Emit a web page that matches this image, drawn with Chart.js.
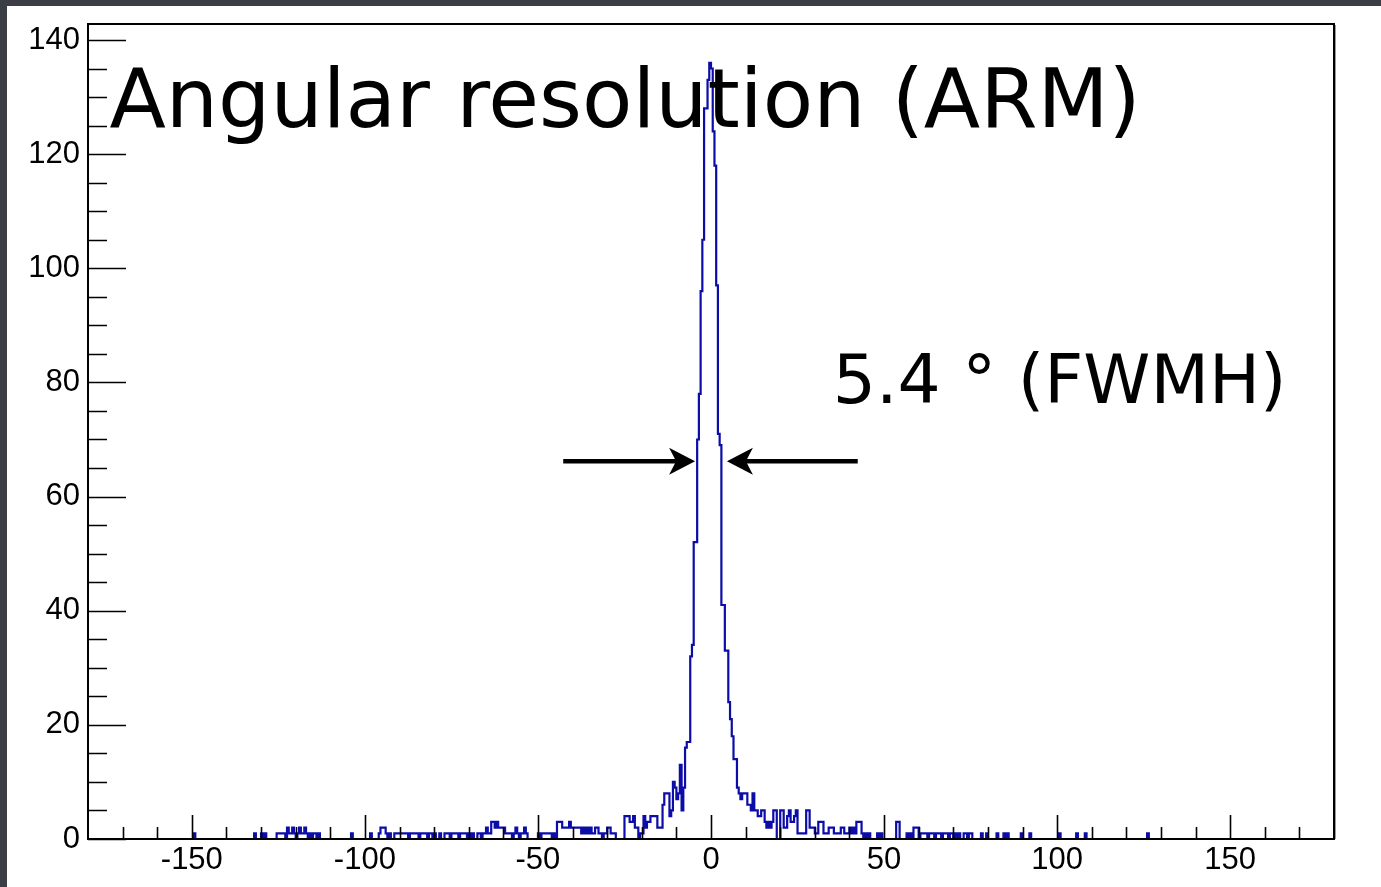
<!DOCTYPE html>
<html><head><meta charset="utf-8">
<script src="https://cdn.jsdelivr.net/npm/chart.js@4.4.1/dist/chart.umd.min.js"></script>
<style>
html,body{margin:0;padding:0;width:1381px;height:887px;overflow:hidden;background:#3c3e46;}
#panel{position:absolute;left:7px;top:6px;width:1374px;height:881px;background:#fff;}
canvas{display:block;}
</style></head><body>
<div id="panel"><canvas id="c" width="1374" height="881"></canvas></div>
<script>
// ---- histogram binning (degrees) ----
const histMin = -180;
const histMax = 180;
const binWidth = 0.5;

// ---- core of the peak: bin low edges and counts ----
const coreEdges  = [-9, -8.5, -8, -7.5, -7, -6.5, -6, -5.5, -5, -4.5, -4, -3.5, -3, -2.5, -2, -1.5, -1, -0.5,
                    0, 0.5, 1, 1.5, 2, 2.5, 3, 3.5, 4, 4.5, 5, 5.5, 6, 6.5, 7];
const coreCounts = [13, 5, 9, 16, 17, 17, 32, 34, 52, 52, 70, 78, 96, 105, 128, 128, 133, 136,
                    135, 124, 118, 97, 71, 69, 41, 41, 33, 33, 24, 21, 18, 14, 14];

// ---- left tail (non-empty bins) ----
const leftTailEdges = [-149.5, -132, -130, -129, -125.5, -125, -124.5, -124, -123.5, -122.5, -122, -121.5, -121, -120.5,
  -119.5, -119, -118.5, -118, -117.5, -117, -116, -115, -114.5, -113.5, -104, -98.5, -96, -95.5, -95, -94.5, -94, -93,
  -91.5, -91, -90.5, -90, -89.5, -89, -88.5, -88, -87, -86.5, -86, -85.5, -85, -84, -83.5, -83, -82.5, -81.5, -81, -80,
  -78.5, -77, -76.5, -76, -75, -74.5, -74, -73.5, -72.5, -72, -71.5, -71, -70, -69, -67.5, -67, -66, -65.5, -65, -64.5, -64,
  -63.5, -63, -62.5, -62, -61.5, -61, -60.5, -60, -59.5, -59, -58.5, -58, -57, -56.5, -56, -55, -54.5, -54, -53.5,
  -50, -49, -48.5, -48, -47.5, -47, -46.5, -45.5, -44.5, -44, -43.5, -43, -42.5, -42, -41.5, -41, -40.5, -40,
  -39.5, -39, -38.5, -38, -37.5, -37, -36.5, -36, -35.5, -35, -34.5, -34, -33.5, -33, -32.5, -32, -31, -30.5, -30, -29.5,
  -29, -28.5, -28, -25, -24.5, -24, -23.5, -23, -22.5, -22, -21.5, -20.5, -20, -19.5, -19, -18.5, -18, -17.5, -17, -16.5, -16,
  -15.5, -15, -14.5, -14, -13.5, -13, -12.5, -12, -11.5, -11, -10.5, -10, -9.5];
const leftTailCounts = [1, 1, 1, 1, 1, 1, 1, 1, 1, 2, 1, 1, 2, 1,
  1, 2, 1, 1, 2, 1, 1, 1, 1, 1, 1, 1, 1, 2, 2, 2, 1, 1,
  1, 1, 1, 1, 1, 1, 1, 1, 1, 1, 1, 1, 1, 1, 1, 1, 1, 1, 1, 1,
  1, 1, 1, 1, 1, 1, 1, 1, 1, 1, 1, 1, 1, 1, 1, 1, 1, 1, 2, 1, 1,
  3, 3, 2, 3, 2, 2, 2, 2, 1, 1, 1, 1, 1, 2, 1, 1, 1, 2, 1,
  1, 1, 1, 1, 1, 1, 1, 1, 3, 3, 3, 2, 2, 2, 2, 3, 2, 2,
  2, 2, 2, 2, 1, 2, 1, 2, 1, 2, 1, 1, 2, 2, 1, 1, 1, 1, 2, 2,
  1, 1, 1, 4, 4, 4, 3, 3, 4, 2, 2, 1, 1, 4, 2, 3, 3, 4, 4, 4, 4,
  2, 2, 2, 6, 8, 8, 8, 4, 5, 10, 9, 7, 8];

// ---- right tail (non-empty bins) ----
const rightTailEdges = [7.5, 8, 8.5, 9, 9.5, 10, 10.5, 11, 11.5, 12, 12.5, 13, 13.5, 14, 14.5, 15, 15.5, 16, 16.5, 17, 17.5,
  18, 18.5, 20, 20.5, 21, 21.5, 22, 22.5, 23, 23.5, 24, 24.5, 25, 25.5, 26, 26.5, 27, 27.5, 28, 28.5, 29, 29.5, 30, 30.5,
  31, 31.5, 32, 32.5, 33, 33.5, 34, 34.5, 35, 35.5, 36, 36.5, 37, 37.5, 38, 38.5, 39, 39.5, 40, 40.5, 41, 41.5, 42, 42.5, 43,
  43.5, 44.5, 45.5, 48, 49, 53.5, 54, 56.5, 57.5, 58.5, 59, 59.5, 60.5, 61, 61.5, 62, 63, 63.5, 64, 65, 65.5, 66, 67, 67.5,
  68, 69, 69.5, 70.5, 71.5, 73, 73.5, 74.5, 75, 78, 79.5, 82.5, 84.5, 85.5, 89.5, 92, 100.5, 105.5, 108, 126];
const rightTailCounts = [9, 8, 7, 8, 8, 8, 6, 6, 5, 8, 5, 5, 4, 4, 5, 5, 3, 2, 3, 2, 3,
  5, 5, 5, 5, 2, 2, 4, 5, 3, 3, 4, 5, 1, 1, 1, 1, 1, 5, 5, 2, 2, 2, 1, 1,
  3, 3, 3, 1, 1, 1, 2, 2, 2, 1, 1, 1, 1, 2, 2, 1, 1, 1, 2, 1, 2, 1, 3, 3, 3,
  1, 1, 1, 1, 1, 3, 3, 1, 1, 2, 2, 2, 1, 1, 1, 1, 1, 1, 1, 1, 1, 1, 1, 1,
  1, 1, 1, 1, 1, 1, 1, 1, 1, 1, 1, 1, 1, 1, 1, 1, 1, 1, 1, 1];

// ---- axes ----
const xTickValues = [-150, -100, -50, 0, 50, 100, 150];
const xMinorStep = 10;
const yTickValues = [0, 20, 40, 60, 80, 100, 120, 140];
const yMinorStep = 5;
const yMax = 142.8;

// ---- annotations (data coordinates) ----
const titleText = 'Angular resolution (ARM)';
const titleSpan = [-173.8, 124.2];
const titleBaseline = 124.8;
const fwhmText = '5.4 ° (FWMH)';
const fwhmSpan = [35.2, 166.3];
const fwhmBaseline = 76.4;
const arrowLevel = 66.2;
const arrowLeft = [-42.7, -4.6];
const arrowRight = [42.4, 4.6];

// ---- build histogram ----
const nBins = Math.round((histMax - histMin) / binWidth);
const counts = new Array(nBins).fill(0);
function fill(edges, vals) {
  edges.forEach((e, i) => { counts[Math.round((e - histMin) / binWidth)] = vals[i]; });
}
fill(leftTailEdges, leftTailCounts);
fill(coreEdges, coreCounts);
fill(rightTailEdges, rightTailCounts);
const points = counts.map((c, i) => ({ x: histMin + i * binWidth, y: c }));
points.push({ x: histMax, y: 0 });

const labelFont = { family: "'Liberation Sans', Arial, sans-serif", size: 31 };

const framePlugin = {
  id: 'rootFrame',
  afterDatasetsDraw(chart) {
    const { ctx, chartArea: a, scales: { x, y } } = chart;
    ctx.save();
    ctx.strokeStyle = '#000';
    ctx.lineWidth = 1.6;
    ctx.beginPath();
    for (let v = 0; v <= yMax + 1e-9; v += yMinorStep) {
      const py = Math.round(y.getPixelForValue(v)) + 0.5;
      const len = (v % 20 === 0) ? 38 : 19;
      ctx.moveTo(a.left, py); ctx.lineTo(a.left + len, py);
    }
    for (let v = -170; v <= 170; v += xMinorStep) {
      const px = Math.round(x.getPixelForValue(v)) + 0.5;
      const len = (v % 50 === 0) ? 24 : 12;
      ctx.moveTo(px, a.bottom); ctx.lineTo(px, a.bottom - len);
    }
    ctx.stroke();
    ctx.lineWidth = 2;
    ctx.strokeRect(a.left, a.top, a.right - a.left, a.bottom - a.top);
    ctx.strokeStyle = '#9a9a9a';
    ctx.lineWidth = 1;
    ctx.beginPath();
    ctx.moveTo(a.right + 1.5, a.top + 1); ctx.lineTo(a.right + 1.5, a.bottom);
    ctx.stroke();
    ctx.restore();
  }
};

function drawArrow(ctx, x0, x1, yy) {
  const dir = Math.sign(x1 - x0);
  const headLen = 26, half = 13.5, notch = 19;
  ctx.lineWidth = 4.5;
  ctx.beginPath();
  ctx.moveTo(x0, yy); ctx.lineTo(x1 - dir * notch, yy);
  ctx.stroke();
  ctx.beginPath();
  ctx.moveTo(x1, yy);
  ctx.lineTo(x1 - dir * headLen, yy - half);
  ctx.lineTo(x1 - dir * notch, yy);
  ctx.lineTo(x1 - dir * headLen, yy + half);
  ctx.closePath();
  ctx.fill();
}

function fitText(ctx, text, family, width) {
  ctx.font = `100px ${family}`;
  const w = ctx.measureText(text).width;
  return 100 * width / w;
}

const annotationPlugin = {
  id: 'annot',
  afterDatasetsDraw(chart) {
    const { ctx, scales: { x, y } } = chart;
    ctx.save();
    ctx.fillStyle = '#000';
    ctx.strokeStyle = '#000';
    const fam = "'DejaVu Sans', sans-serif";
    const tx0 = x.getPixelForValue(titleSpan[0]), tx1 = x.getPixelForValue(titleSpan[1]);
    const ts = fitText(ctx, titleText, fam, tx1 - tx0);
    ctx.font = `${ts}px ${fam}`;
    ctx.textBaseline = 'alphabetic';
    ctx.textAlign = 'left';
    ctx.fillText(titleText, tx0, y.getPixelForValue(titleBaseline));
    const fx0 = x.getPixelForValue(fwhmSpan[0]), fx1 = x.getPixelForValue(fwhmSpan[1]);
    const fs = fitText(ctx, fwhmText, fam, fx1 - fx0);
    ctx.font = `${fs}px ${fam}`;
    ctx.fillText(fwhmText, fx0, y.getPixelForValue(fwhmBaseline));
    const ay = y.getPixelForValue(arrowLevel);
    drawArrow(ctx, x.getPixelForValue(arrowLeft[0]), x.getPixelForValue(arrowLeft[1]), ay);
    drawArrow(ctx, x.getPixelForValue(arrowRight[0]), x.getPixelForValue(arrowRight[1]), ay);
    ctx.restore();
  }
};

new Chart(document.getElementById('c'), {
  type: 'line',
  data: {
    datasets: [{
      data: points,
      stepped: true,
      borderColor: '#0c0ca8',
      borderWidth: 2.2,
      pointRadius: 0,
      fill: false,
      tension: 0
    }]
  },
  options: {
    responsive: false,
    animation: false,
    devicePixelRatio: 1,
    layout: { padding: { top: 18, right: 47, left: 0, bottom: 0 } },
    plugins: { legend: { display: false }, tooltip: { enabled: false }, title: { display: false } },
    scales: {
      x: {
        type: 'linear', min: histMin, max: histMax,
        grid: { display: false, drawTicks: false },
        border: { display: false },
        afterBuildTicks: s => { s.ticks = xTickValues.map(v => ({ value: v })); },
        afterFit: s => { s.height = 48; s.paddingLeft = 0; s.paddingRight = 0; s.paddingTop = 0; s.paddingBottom = 0; },
        ticks: { font: labelFont, color: '#000', padding: 3, maxRotation: 0, autoSkip: false, callback: v => String(v) }
      },
      y: {
        type: 'linear', min: 0, max: yMax,
        grid: { display: false, drawTicks: false },
        border: { display: false },
        afterBuildTicks: s => { s.ticks = yTickValues.map(v => ({ value: v })); },
        afterFit: s => { s.width = 81; s.paddingTop = 0; s.paddingBottom = 0; s.paddingLeft = 0; s.paddingRight = 0; },
        ticks: { font: labelFont, color: '#000', padding: 8, autoSkip: false, callback: v => String(v) }
      }
    }
  },
  plugins: [framePlugin, annotationPlugin]
});
</script>
</body></html>
